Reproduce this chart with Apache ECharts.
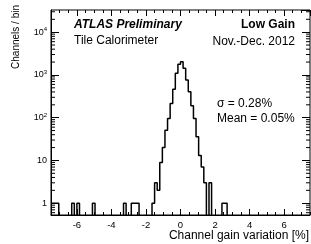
<!DOCTYPE html>
<html>
<head>
<meta charset="utf-8">
<script src="https://cdn.jsdelivr.net/npm/echarts@6/dist/echarts.min.js"></script>
<style>
  html, body { margin: 0; padding: 0; background: #fff; }
  #chart { width: 311px; height: 244px; }
</style>
</head>
<body>
<div id="chart"></div>
<script>
  // histogram: 100 bins of 0.15 % from -7.5 to 7.5
  const binStart = -7.5;
  const binWidth = 0.15;
  const counts = [
    1, 1, 1, 0, 0, 0, 0, 0, 1, 0,
    1, 0, 0, 0, 0, 0, 1, 0, 0, 0,
    0, 0, 0, 0, 0, 0, 0, 0, 1, 0,
    0, 1, 1, 1, 0, 0, 0, 0, 0, 1,
    3, 2, 9, 20, 51, 96, 215, 460, 1090, 1780,
    2040, 1430, 760, 405, 190, 96, 36, 13, 7, 3,
    0, 3, 0, 0, 0, 0, 1, 1, 0, 0,
    0, 0, 0, 0, 0, 0, 0, 0, 0, 0,
    0, 0, 0, 0, 0, 0, 0, 0, 0, 0,
    0, 0, 0, 0, 0, 0, 0, 0, 0, 0
  ];
  const xMin = -7.5, xMax = 7.5;
  const yMin = 0.53, yMax = 33000;
  const minorMult = [2, 3, 4, 5, 6, 7, 8, 9];
  const decades = [0.1, 1, 10, 100, 1000, 10000];

  const FONT = '"Liberation Sans", Arial, Helvetica, sans-serif';

  // step outline of the histogram, empty bins drop below the frame
  let steps = [];
  for (let i = 0; i < counts.length; i++) {
    let lo = binStart + i * binWidth;
    let v = counts[i] > 0 ? counts[i] : 0.05;
    steps.push([lo, v]);
    steps.push([lo + binWidth, v]);
  }

  let minorY = [];
  decades.forEach(d => minorMult.forEach(m => {
    let v = d * m;
    if (v > yMin && v < yMax) minorY.push([0, v]);
  }));

  let myChart = echarts.init(document.getElementById('chart'));

  let tickX = (pos, len) => ({
    type: 'value', min: xMin, max: xMax, position: pos,
    axisLine: { show: false, onZero: false },
    axisTick: { show: true, inside: true, length: len, lineStyle: { color: '#000', width: 1 } },
    axisLabel: { show: false },
    splitLine: { show: false }
  });

  let option = {
    animation: false,
    grid: { left: 51, right: 1, top: 10, bottom: 29, show: true, borderColor: '#000', borderWidth: 1 },
    xAxis: [
      {
        type: 'value', min: xMin, max: xMax, splitNumber: 7, position: 'bottom',
        axisLine: { show: true, onZero: false, lineStyle: { color: '#000', width: 1 } },
        axisTick: { show: true, inside: true, length: 6, lineStyle: { color: '#000' } },
        axisLabel: { color: '#000', fontSize: 9.5, fontFamily: FONT, margin: 5, showMinLabel: false, showMaxLabel: false },
        splitLine: { show: false }
      },
      Object.assign(tickX('bottom', 3), { interval: 0.5 }),
      Object.assign(tickX('top', 6), { splitNumber: 7 }),
      Object.assign(tickX('top', 3), { interval: 0.5 })
    ],
    yAxis: [
      {
        type: 'log', logBase: 10, min: yMin, max: yMax, position: 'left',
        axisLine: { show: true, onZero: false, lineStyle: { color: '#000', width: 1 } },
        axisTick: { show: true, inside: true, length: 8, lineStyle: { color: '#000' } },
        axisLabel: {
          color: '#000', fontSize: 9, fontFamily: FONT, margin: 4,
          showMinLabel: false, showMaxLabel: false,
          formatter: function (v) {
            let e = Math.round(Math.log10(v));
            if (e === 0) return '1';
            if (e === 1) return '10';
            return '{b|10}{s|' + e + '}';
          },
          rich: {
            b: { fontSize: 9, fontFamily: FONT, color: '#000' },
            s: { fontSize: 6, fontFamily: FONT, color: '#000', verticalAlign: 'top', padding: [0, 0, 5, 0] }
          }
        },
        splitLine: { show: false }
      },
      {
        type: 'log', logBase: 10, min: yMin, max: yMax, position: 'right',
        axisLine: { show: false, onZero: false },
        axisTick: { show: true, inside: true, length: 8, lineStyle: { color: '#000' } },
        axisLabel: { show: false },
        splitLine: { show: false }
      }
    ],
    graphic: [
      { type: 'text', x: 74, y: 24.5, style: { text: 'ATLAS Preliminary', font: 'italic bold 12px ' + FONT, fill: '#000', verticalAlign: 'middle', textVerticalAlign: 'middle' } },
      { type: 'text', x: 74, y: 41, style: { text: 'Tile Calorimeter', font: '12px ' + FONT, fill: '#000', verticalAlign: 'middle', textVerticalAlign: 'middle' } },
      { type: 'text', x: 295, y: 24.5, style: { text: 'Low Gain', font: 'bold 12px ' + FONT, fill: '#000', align: 'right', textAlign: 'right', verticalAlign: 'middle', textVerticalAlign: 'middle' } },
      { type: 'text', x: 295, y: 42, style: { text: 'Nov.-Dec. 2012', font: '12px ' + FONT, fill: '#000', align: 'right', textAlign: 'right', verticalAlign: 'middle', textVerticalAlign: 'middle' } },
      { type: 'text', x: 217, y: 104, style: { text: 'σ = 0.28%', font: '12px ' + FONT, fill: '#000', verticalAlign: 'middle', textVerticalAlign: 'middle' } },
      { type: 'text', x: 217, y: 119, style: { text: 'Mean = 0.05%', font: '12px ' + FONT, fill: '#000', verticalAlign: 'middle', textVerticalAlign: 'middle' } },
      { type: 'text', x: 309, y: 236, style: { text: 'Channel gain variation [%]', font: '12px ' + FONT, fill: '#000', align: 'right', textAlign: 'right', verticalAlign: 'middle', textVerticalAlign: 'middle' } },
      { type: 'text', x: 16, y: 5, rotation: Math.PI / 2, style: { text: 'Channels / bin', font: '10px ' + FONT, fill: '#000', align: 'right', textAlign: 'right', verticalAlign: 'middle', textVerticalAlign: 'middle' } }
    ],
    series: [
      {
        type: 'line', xAxisIndex: 0, yAxisIndex: 0, data: steps,
        showSymbol: false, symbol: 'none', clip: true,
        lineStyle: { color: '#000', width: 1.5 },
        silent: true
      },
      {
        // minor log ticks on left and right frame
        type: 'custom', xAxisIndex: 0, yAxisIndex: 0, data: minorY, silent: true,
        renderItem: function (params, api) {
          let y = api.coord([0, api.value(1)])[1];
          let r = params.coordSys;
          return {
            type: 'group',
            children: [
              { type: 'line', shape: { x1: r.x, y1: y, x2: r.x + 4, y2: y }, style: { stroke: '#000', lineWidth: 1 } },
              { type: 'line', shape: { x1: r.x + r.width - 4, y1: y, x2: r.x + r.width, y2: y }, style: { stroke: '#000', lineWidth: 1 } }
            ]
          };
        }
      }
    ]
  };
  myChart.setOption(option);
</script>
</body>
</html>
